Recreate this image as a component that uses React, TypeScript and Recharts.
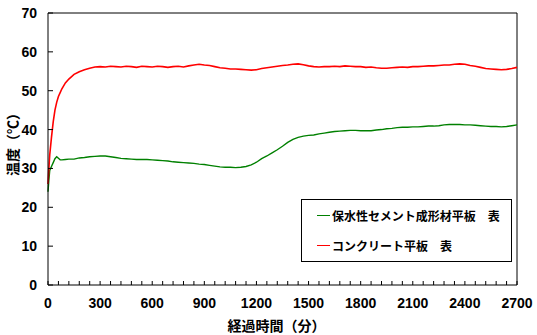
import { Legend, Line, LineChart, ReferenceLine, XAxis, YAxis } from "recharts";

// elapsed minutes
const times = [
  0, 5, 10, 20, 30, 40, 50, 60, 70, 80, 100, 120, 150, 180, 210, 240, 270,
  300, 330, 360, 390, 420, 450, 480, 510, 540, 570,
  600, 630, 660, 690, 720, 750, 780, 810, 840, 870,
  900, 930, 960, 990, 1020, 1050, 1080, 1110, 1140, 1170,
  1200, 1230, 1260, 1290, 1320, 1350, 1380, 1410, 1440, 1470,
  1500, 1530, 1560, 1590, 1620, 1650, 1680, 1710, 1740, 1770,
  1800, 1830, 1860, 1890, 1920, 1950, 1980, 2010, 2040, 2070,
  2100, 2130, 2160, 2190, 2220, 2250, 2280, 2310, 2340, 2370,
  2400, 2430, 2460, 2490, 2520, 2550, 2580, 2610, 2640, 2670,
  2700,
];

// 保水性セメント成形材平板 表
const cementSurface = [
  24, 27, 29.5, 30.5, 31.5, 32.5, 33.0, 32.6, 32.2, 32.2, 32.3, 32.4, 32.4, 32.7, 32.8, 33.0, 33.1,
  33.2, 33.2, 33.0, 32.8, 32.6, 32.5, 32.4, 32.3, 32.3, 32.3,
  32.2, 32.1, 32.0, 31.9, 31.7, 31.6, 31.5, 31.4, 31.3, 31.1,
  31.0, 30.8, 30.6, 30.4, 30.3, 30.3, 30.2, 30.3, 30.5, 30.9,
  31.6, 32.5, 33.2, 34.0, 34.8, 35.7, 36.7, 37.5, 38.0, 38.3,
  38.5, 38.6, 38.9, 39.1, 39.3, 39.5, 39.6, 39.7, 39.8, 39.8,
  39.7, 39.7, 39.7, 39.9, 40.0, 40.2, 40.3, 40.5, 40.6, 40.6,
  40.7, 40.7, 40.8, 40.9, 40.9, 41.0, 41.2, 41.3, 41.3, 41.3,
  41.2, 41.2, 41.1, 41.0, 40.9, 40.8, 40.8, 40.7, 40.8, 41.0,
  41.2,
];

// コンクリート平板 表
const concreteSurface = [
  26, 30, 33.5, 38, 42, 45, 47, 48.5, 49.5, 50.5, 52, 53, 54.2, 54.9, 55.4, 55.8, 56.1,
  56.2, 56.1, 56.3, 56.2, 56.1, 56.3, 56.2, 56.0, 56.3, 56.2,
  56.1, 56.3, 56.2, 56.0, 56.2, 56.3, 56.1, 56.4, 56.6, 56.8,
  56.6, 56.5, 56.2, 55.9, 55.8, 55.6, 55.6, 55.5, 55.4, 55.3,
  55.4, 55.7, 55.9, 56.1, 56.3, 56.5, 56.6, 56.8, 56.9, 56.7,
  56.4, 56.2, 56.1, 56.2, 56.2, 56.3, 56.2, 56.4, 56.3, 56.2,
  56.2, 56.0, 56.1, 55.9, 55.8, 55.8, 55.9, 56.0, 56.1, 56.0,
  56.2, 56.2, 56.3, 56.4, 56.4, 56.5, 56.6, 56.6, 56.8, 56.9,
  56.8, 56.5, 56.3, 56.0, 55.7, 55.6, 55.5, 55.4, 55.5, 55.7,
  56.0,
];

const xTicks = [
  0, 60, 120, 180, 240, 300, 360, 420, 480, 540, 600, 660, 720, 780, 840, 900,
  960, 1020, 1080, 1140, 1200, 1260, 1320, 1380, 1440, 1500, 1560, 1620, 1680,
  1740, 1800, 1860, 1920, 1980, 2040, 2100, 2160, 2220, 2280, 2340, 2400, 2460,
  2520, 2580, 2640, 2700,
];
const xLabelTicks = [0, 300, 600, 900, 1200, 1500, 1800, 2100, 2400, 2700];
const yTicks = [0, 10, 20, 30, 40, 50, 60, 70];

const seriesNames = ["保水性セメント成形材平板　表", "コンクリート平板　表"];
const seriesColors = ["#008000", "#ff0000"];

const data = times.map((t, i) => ({
  t,
  cement: cementSurface[i],
  concrete: concreteSurface[i],
}));

const NUM_FONT = "'Liberation Sans Narrow', 'Arial Narrow', 'Liberation Sans', sans-serif";
const JP_FONT = "'Noto Sans CJK JP', sans-serif";

const XTick = (props: any) => {
  const { x, y, payload } = props;
  return (
    <g>
      <line x1={x} y1={y} x2={x} y2={y - 4} stroke="#000" strokeWidth={1} />
      {xLabelTicks.includes(payload.value) && (
        <text
          x={x}
          y={y + 23}
          textAnchor="middle"
          fontFamily={NUM_FONT}
          fontWeight="bold"
          fontSize={14}
          fill="#000"
        >
          {payload.value}
        </text>
      )}
    </g>
  );
};

const YTick = (props: any) => {
  const { x, y, payload } = props;
  return (
    <g>
      <line x1={x} y1={y} x2={x + 5} y2={y} stroke="#000" strokeWidth={1} />
      <text
        x={x - 11}
        y={y + 5}
        textAnchor="end"
        fontFamily={NUM_FONT}
        fontWeight="bold"
        fontSize={14}
        fill="#000"
      >
        {payload.value}
      </text>
    </g>
  );
};

const LegendBox = () => (
  <div
    style={{
      width: 209,
      height: 61,
      border: "1px solid #000",
      background: "#fff",
      fontFamily: JP_FONT,
      fontWeight: "bold",
      fontSize: 12,
      color: "#000",
    }}
  >
    {seriesNames.map((name, i) => (
      <div
        key={name}
        style={{
          display: "flex",
          alignItems: "center",
          height: 14,
          marginTop: i === 0 ? 8 : 16,
          marginLeft: 15,
          whiteSpace: "pre",
        }}
      >
        <span
          style={{
            display: "inline-block",
            width: 13,
            height: 1,
            background: seriesColors[i],
            marginRight: 2,
          }}
        />
        {name}
      </div>
    ))}
  </div>
);

export default function App() {
  return (
    <div style={{ position: "absolute", left: 0, top: 0, background: "#fff" }}>
      <LineChart
        width={537}
        height={335}
        data={data}
        margin={{ top: 13, right: 20, bottom: 20, left: 0 }}
      >
        <XAxis
          dataKey="t"
          type="number"
          domain={[0, 2700]}
          ticks={xTicks}
          interval={0}
          height={30}
          tickSize={0}
          tickMargin={0}
          tickLine={false}
          axisLine={{ stroke: "#000", strokeWidth: 1 }}
          tick={<XTick />}
          label={(p: any) => (
            <text
              x={p.viewBox.x + p.viewBox.width / 2 - 6}
              y={p.viewBox.y + 40}
              textAnchor="middle"
              dominantBaseline="central"
              fontFamily={JP_FONT}
              fontWeight="bold"
              fontSize={14}
              fill="#000"
            >
              経過時間（分）
            </text>
          )}
        />
        <YAxis
          type="number"
          domain={[0, 70]}
          ticks={yTicks}
          interval={0}
          width={48}
          tickSize={0}
          tickMargin={0}
          tickLine={false}
          axisLine={{ stroke: "#000", strokeWidth: 1 }}
          tick={<YTick />}
          label={(p: any) => {
            const cx = 12;
            const cy = p.viewBox.y + p.viewBox.height / 2 - 8;
            return (
              <text
                x={cx}
                y={cy}
                transform={`rotate(-90 ${cx} ${cy})`}
                textAnchor="middle"
                dominantBaseline="central"
                fontFamily={JP_FONT}
                fontWeight="bold"
                fontSize={14}
                fill="#000"
              >
                温度（℃）
              </text>
            );
          }}
        />
        <ReferenceLine y={70} stroke="#000" strokeWidth={1} />
        <ReferenceLine x={2700} stroke="#000" strokeWidth={1} />
        <Line
          type="linear"
          dataKey="cement"
          name={seriesNames[0]}
          stroke={seriesColors[0]}
          strokeWidth={1.4}
          dot={false}
          isAnimationActive={false}
        />
        <Line
          type="linear"
          dataKey="concrete"
          name={seriesNames[1]}
          stroke={seriesColors[1]}
          strokeWidth={1.6}
          dot={false}
          isAnimationActive={false}
        />
        <Legend
          layout="vertical"
          align="center"
          verticalAlign="middle"
          content={<LegendBox />}
          wrapperStyle={{ left: 301, top: 199, width: 211, height: 63 }}
        />
      </LineChart>
    </div>
  );
}
